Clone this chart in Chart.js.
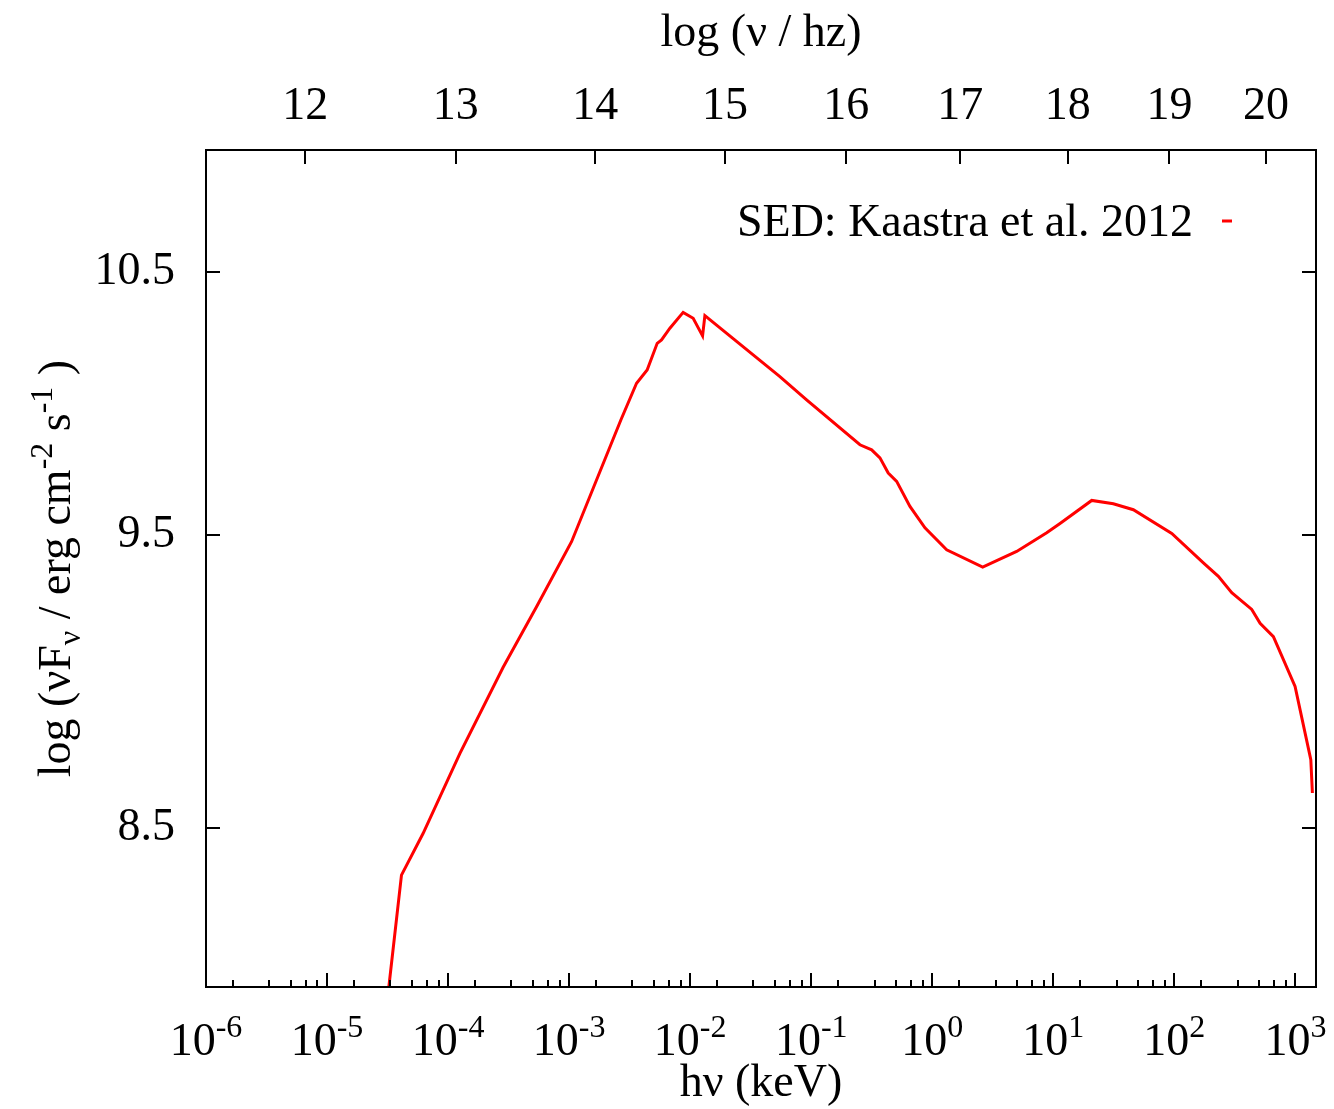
<!DOCTYPE html>
<html>
<head>
<meta charset="utf-8">
<script src="https://cdn.jsdelivr.net/npm/chart.js@4.4.1/dist/chart.umd.min.js"></script>
<style>
html, body { margin: 0; padding: 0; background: #fff; }
</style>
</head>
<body>
<canvas id="sed" width="1334" height="1109"></canvas>
<script>
// photon energy (keV) and log(nu F_nu)
const energyKeV = [3.24e-5, 4.12e-5, 6.21e-5, 1.25e-4, 2.85e-4, 5.38e-4, 1.047e-3, 1.684e-3, 2.675e-3, 3.606e-3,
  4.41e-3, 5.34e-3, 5.80e-3, 6.80e-3, 8.75e-3, 1.059e-2, 1.266e-2, 1.323e-2, 5.51e-2, 9.16e-2,
  0.2527, 0.3157, 0.3697, 0.4329, 0.508, 0.6542, 0.8703, 1.315, 2.61, 4.98,
  8.82, 11.36, 20.77, 31.33, 45.84, 95.2, 173.7, 231, 298, 436,
  511, 658, 994, 1341, 1382];
const logNuFnu = [8.00, 8.348, 8.481, 8.743, 9.035, 9.245, 9.477, 9.702, 9.926, 10.066,
  10.117, 10.220, 10.233, 10.279, 10.341, 10.318, 10.249, 10.328, 10.091, 10.002,
  9.833, 9.814, 9.784, 9.728, 9.697, 9.605, 9.527, 9.448, 9.386, 9.442,
  9.509, 9.543, 9.627, 9.615, 9.593, 9.507, 9.401, 9.353, 9.295, 9.236,
  9.187, 9.141, 8.969, 8.723, 8.613];

const yTicks = [8.5, 9.5, 10.5];
const freqTicks = [12, 13, 14, 15, 16, 17, 18, 19, 20];
const energyExps = [-6, -5, -4, -3, -2, -1, 0, 1, 2, 3];
const seriesLabel = 'SED: Kaastra et al. 2012';

const FONT = '"Liberation Serif", "Times New Roman", serif';

function richText(ctx, runs, x, y, align) {
  let w = 0;
  runs.forEach(r => {
    ctx.font = r.s + 'px ' + FONT;
    r.w = ctx.measureText(r.t).width;
    w += r.w;
  });
  let cx = align == 'center' ? x - w / 2 : (align == 'right' ? x - w : x);
  runs.forEach(r => {
    ctx.font = r.s + 'px ' + FONT;
    ctx.fillText(r.t, cx, y + (r.dy || 0));
    cx += r.w;
  });
}

const gnuFrame = {
  id: 'gnuFrame',
  afterDraw(chart) {
    const { ctx, chartArea: a, scales } = chart;
    const sx = scales.x, sy = scales.y, sx2 = scales.x2;
    ctx.save();
    ctx.strokeStyle = '#000';
    ctx.lineWidth = 2;
    ctx.strokeRect(a.left, a.top, a.right - a.left, a.bottom - a.top);

    ctx.beginPath();
    yTicks.forEach(v => {
      const py = Math.round(sy.getPixelForValue(v));
      ctx.moveTo(a.left, py); ctx.lineTo(a.left + 14, py);
      ctx.moveTo(a.right, py); ctx.lineTo(a.right - 14, py);
    });
    freqTicks.forEach(v => {
      const px = Math.round(sx2.getPixelForValue(v));
      ctx.moveTo(px, a.top); ctx.lineTo(px, a.top + 14);
    });
    energyExps.forEach(e => {
      const px = Math.round(sx.getPixelForValue(Math.pow(10, e)));
      ctx.moveTo(px, a.bottom); ctx.lineTo(px, a.bottom - 14);
      for (let k = 1; k <= 5; k++) {
        const v = Math.pow(10, e + 1) * k / 6;
        if (v > sx.max) continue;
        const pm = Math.round(sx.getPixelForValue(v));
        ctx.moveTo(pm, a.bottom); ctx.lineTo(pm, a.bottom - 7);
      }
    });
    ctx.stroke();

    ctx.fillStyle = '#000';
    ctx.textBaseline = 'alphabetic';
    ctx.textAlign = 'left';
    energyExps.forEach(e => {
      const px = sx.getPixelForValue(Math.pow(10, e));
      richText(ctx, [{ t: '10', s: 46 }, { t: String(e), s: 32, dy: -18 }], px, 1055, 'center');
    });

    const midX = (a.left + a.right) / 2;
    richText(ctx, [{ t: 'h\u03bd (keV)', s: 46 }], midX, 1096, 'center');
    richText(ctx, [{ t: 'log (\u03bd / hz)', s: 46 }], midX, 46, 'center');

    ctx.save();
    ctx.translate(70, (a.top + a.bottom) / 2);
    ctx.rotate(-Math.PI / 2);
    richText(ctx, [
      { t: 'log (\u03bdF', s: 46 },
      { t: '\u03bd', s: 32, dy: 10 },
      { t: ' / erg cm', s: 46 },
      { t: '-2', s: 32, dy: -18 },
      { t: ' s', s: 46 },
      { t: '-1', s: 32, dy: -18 },
      { t: ' )', s: 46 }
    ], 0, 0, 'center');
    ctx.restore();

    // key, gnuplot style: text then a short sample
    richText(ctx, [{ t: seriesLabel, s: 46 }], 1193, 236, 'right');
    ctx.strokeStyle = 'rgb(255,0,0)';
    ctx.lineWidth = 3;
    ctx.beginPath();
    ctx.moveTo(1222, 221); ctx.lineTo(1232, 221);
    ctx.stroke();
    ctx.restore();
  }
};

const pts = energyKeV.map((e, i) => ({ x: e, y: logNuFnu[i] }));

new Chart(document.getElementById('sed').getContext('2d'), {
  type: 'line',
  data: {
    datasets: [{
      label: seriesLabel,
      data: pts,
      borderColor: 'rgb(255,0,0)',
      borderWidth: 3,
      pointRadius: 0,
      tension: 0,
      fill: false,
      xAxisID: 'x',
      yAxisID: 'y'
    }]
  },
  options: {
    responsive: false,
    animation: false,
    layout: { padding: { left: 0, right: 18, top: 0, bottom: 0 } },
    plugins: { legend: { display: false }, tooltip: { enabled: false } },
    scales: {
      x: {
        type: 'logarithmic',
        position: 'bottom',
        min: 1e-6,
        max: 1480,
        grid: { display: false, drawTicks: false },
        border: { display: false },
        ticks: { display: false },
        afterFit: s => { s.height = 122; }
      },
      x2: {
        type: 'logarithmic',
        position: 'top',
        min: 11.383,
        max: 20.54,
        grid: { display: false, drawTicks: false },
        border: { display: false },
        afterBuildTicks: s => { s.ticks = freqTicks.map(v => ({ value: v })); },
        ticks: {
          autoSkip: false,
          maxRotation: 0,
          padding: 15,
          color: '#000',
          font: { family: FONT, size: 46 },
          callback: v => String(v)
        },
        afterFit: s => { s.height = 150; }
      },
      y: {
        type: 'logarithmic',
        position: 'left',
        min: 8,
        max: 11,
        grid: { display: false, drawTicks: false },
        border: { display: false },
        afterBuildTicks: s => { s.ticks = yTicks.map(v => ({ value: v })); },
        ticks: {
          autoSkip: false,
          padding: 31,
          color: '#000',
          font: { family: FONT, size: 46 },
          callback: v => String(v)
        },
        afterFit: s => { s.width = 206; }
      }
    }
  },
  plugins: [gnuFrame]
});
</script>
</body>
</html>
